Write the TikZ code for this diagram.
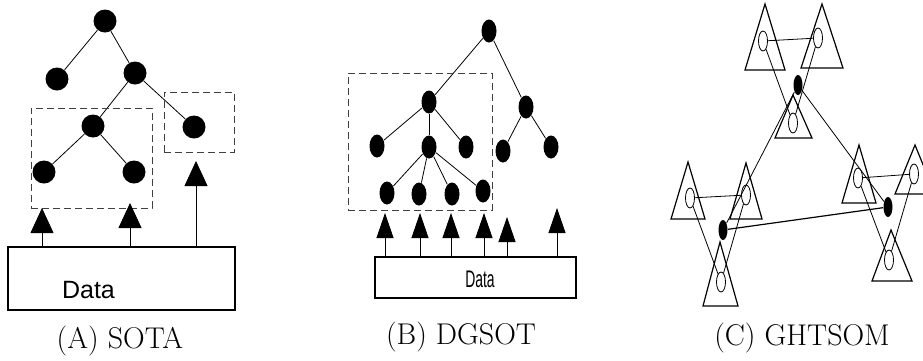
\documentclass[tikz,border=0pt]{standalone}
\usepackage{fontspec}
\usepackage{graphicx}
\newfontfamily\datafont{Liberation Sans}
\usetikzlibrary{arrows.meta,shapes.geometric}

\begin{document}
\begin{tikzpicture}[x=1pt, y=-1pt, line width=0.8pt,
    dot/.style={shape=circle, fill=black, inner sep=0pt, minimum size=23pt},
    egg/.style={shape=ellipse, fill=black, inner sep=0pt, minimum width=15pt, minimum height=23pt},
    ring/.style={shape=ellipse, draw=black, inner sep=0pt, minimum width=9pt, minimum height=20pt},
    hub/.style={shape=ellipse, fill=black, inner sep=0pt, minimum width=9pt, minimum height=20pt},
    zone/.style={draw=black!75, dash pattern=on 7pt off 4pt, inner sep=0pt},
    store/.style={draw=black, line width=1.1pt, inner sep=0pt},
    bigup/.style={-{Triangle[width=23pt, length=25pt]}},
    smallup/.style={-{Triangle[width=17pt, length=25pt]}},
    tri/.style={line width=1.2pt},
    caption/.style={anchor=base, inner sep=0pt, font=\fontsize{30}{36}\selectfont}]

      \useasboundingbox (0,0) rectangle (923,360);

      % (A) SOTA ------------------------------------------------------------------
      \node[dot] at (105,21) (a_root) {};
      \node[dot] at (57,79) (a_l) {};
      \node[dot] at (135,73) (a_r) {};
      \node[dot] at (93,126) (a_rl) {};
      \node[dot] at (194,127) (a_rr) {};
      \node[dot] at (44,172) (a_rll) {};
      \node[dot] at (134,172) (a_rlr) {};

      \draw (a_root) -- (a_l);
      \draw (a_root) -- (a_r);
      \draw (a_r) -- (a_rl);
      \draw (a_r) -- (a_rr);
      \draw (a_rl) -- (a_rll);
      \draw (a_rl) -- (a_rlr);

      \node[zone, minimum width=121pt, minimum height=100pt] at (91.5,158) (a_box1) {};
      \node[zone, minimum width=70pt, minimum height=60pt] at (199,122) (a_box2) {};

      \node[store, minimum width=227pt, minimum height=63pt] at (121.5,278.5) (a_data) {};
      \node[anchor=base, inner sep=0pt, font=\datafont\fontsize{25}{30}\selectfont] at (88.5,298) (a_text) {Data};

      \coordinate (a_tip1) at (42,208);
      \coordinate (a_tip2) at (130,203);
      \coordinate (a_tip3) at (196,161);
      \draw[bigup] (a_tip1 |- a_data.north) -- (a_tip1);
      \draw[bigup] (a_tip2 |- a_data.north) -- (a_tip2);
      \draw[bigup] (a_tip3 |- a_data.north) -- (a_tip3);

      \node[caption] at (120,348) (a_caption) {(A) SOTA};

      % (B) DGSOT -----------------------------------------------------------------
      \node[egg] at (489,31) (b_root) {};
      \node[egg] at (429,102) (b_l) {};
      \node[egg] at (526,107) (b_r) {};
      \node[egg] at (377,146) (b_ll) {};
      \node[egg] at (429,147) (b_lm) {};
      \node[egg] at (466,147) (b_lr) {};
      \node[egg] at (503,151) (b_rl) {};
      \node[egg] at (551,147) (b_rr) {};
      \node[egg] at (387,193) (b_lm1) {};
      \node[egg] at (419,194) (b_lm2) {};
      \node[egg] at (452,194) (b_lm3) {};
      \node[egg] at (483,191) (b_lm4) {};

      \draw (b_root) -- (b_l);
      \draw (b_root) -- (b_r);
      \draw (b_l) -- (b_ll);
      \draw (b_l) -- (b_lm);
      \draw (b_l) -- (b_lr);
      \draw (b_r) -- (b_rl);
      \draw (b_r) -- (b_rr);
      \draw (b_lm) -- (b_lm1);
      \draw (b_lm) -- (b_lm2);
      \draw (b_lm) -- (b_lm3);
      \draw (b_lm) -- (b_lm4);

      \node[zone, minimum width=144pt, minimum height=137pt] at (420,141.5) (b_box) {};

      \node[store, minimum width=201pt, minimum height=41pt] at (475.5,277.5) (b_data) {};
      \node[inner sep=0pt, font=\datafont\fontsize{24}{28}\selectfont] at (480,279) (b_text) {\scalebox{0.58}[1]{Data}};

      \coordinate (b_tip1) at (385,213);
      \coordinate (b_tip2) at (420,213);
      \coordinate (b_tip3) at (451,213);
      \coordinate (b_tip4) at (484,213);
      \coordinate (b_tip5) at (507,217);
      \coordinate (b_tip6) at (557,208);
      \draw[smallup] (b_tip1 |- b_data.north) -- (b_tip1);
      \draw[smallup] (b_tip2 |- b_data.north) -- (b_tip2);
      \draw[smallup] (b_tip3 |- b_data.north) -- (b_tip3);
      \draw[smallup] (b_tip4 |- b_data.north) -- (b_tip4);
      \draw[smallup] (b_tip5 |- b_data.north) -- (b_tip5);
      \draw[smallup] (b_tip6 |- b_data.north) -- (b_tip6);

      \node[caption] at (461,344) (b_caption) {(B) DGSOT};

      % (C) GHTSOM ----------------------------------------------------------------
      \draw[tri] (765,4) -- ++(-20,66) -- ++(40,0) -- cycle;
      \draw[tri] (822,4) -- ++(-21,64) -- ++(42,0) -- cycle;
      \draw[tri] (793,95) -- ++(-18,43) -- ++(37,0) -- cycle;
      \draw[tri] (688,162) -- ++(-17,57) -- ++(34,0) -- cycle;
      \draw[tri] (746,163) -- ++(-16,56) -- ++(32,0) -- cycle;
      \draw[tri] (720,242) -- ++(-17,64) -- ++(35,0) -- cycle;
      \draw[tri] (859,145) -- ++(-17,58) -- ++(34,0) -- cycle;
      \draw[tri] (915,145) -- ++(-20,49) -- ++(40,0) -- cycle;
      \draw[tri] (891,230) -- ++(-19,51) -- ++(40,0) -- cycle;

      \node[ring] at (763,41) (c_t1) {};
      \node[ring] at (818,38) (c_t2) {};
      \node[ring] at (793,123) (c_t3) {};
      \node[ring] at (690,198) (c_l1) {};
      \node[ring] at (746,195) (c_l2) {};
      \node[ring] at (721,282) (c_l3) {};
      \node[ring] at (858,178) (c_r1) {};
      \node[ring] at (914,174) (c_r2) {};
      \node[ring] at (889,260) (c_r3) {};

      \node[hub] at (798,85) (c_top) {};
      \node[hub] at (723,230) (c_left) {};
      \node[hub] at (888,207) (c_right) {};

      \draw (c_t1) -- (c_t2);
      \draw (c_t1) -- (c_t3);
      \draw (c_t2) -- (c_t3);
      \draw (c_l1) -- (c_l2);
      \draw (c_l1) -- (c_l3);
      \draw (c_l2) -- (c_l3);
      \draw (c_r1) -- (c_r2);
      \draw (c_r1) -- (c_r3);
      \draw (c_r2) -- (c_r3);

      \draw (c_top) -- (c_left);
      \draw (c_top) -- (c_right);
      \draw[line width=1.2pt] (c_left) -- (c_right);

      \node[caption] at (802,345) (c_caption) {(C) GHTSOM};
    \end{tikzpicture}
\end{document}
